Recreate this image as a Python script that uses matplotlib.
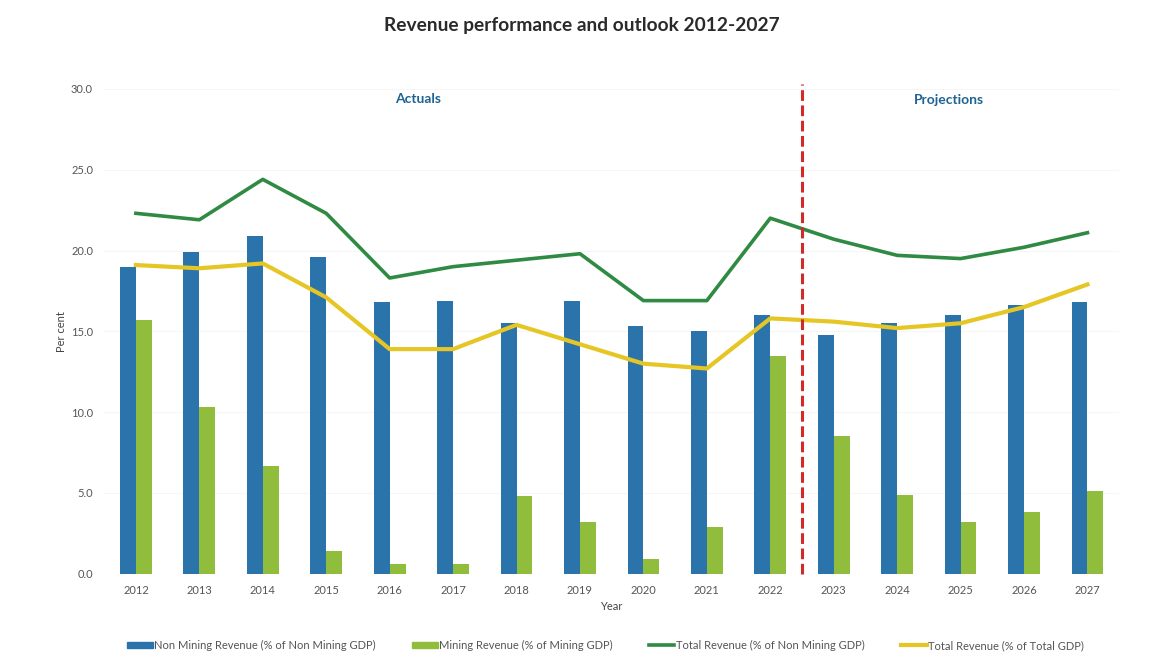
import numpy as np
import matplotlib.pyplot as plt
from matplotlib.lines import Line2D
from matplotlib.patches import Patch

plt.rcParams['font.family'] = ['Lato', 'DejaVu Sans']

years = ['2012', '2013', '2014', '2015', '2016', '2017', '2018', '2019',
         '2020', '2021', '2022', '2023', '2024', '2025', '2026', '2027']
non_mining_rev = [19.0, 19.9, 20.9, 19.6, 16.8, 16.9, 15.5, 16.9,
                  15.3, 15.0, 16.0, 14.8, 15.5, 16.0, 16.6, 16.8]
mining_rev = [15.7, 10.3, 6.7, 1.4, 0.6, 0.6, 4.8, 3.2,
              0.9, 2.9, 13.5, 8.5, 4.9, 3.2, 3.8, 5.1]
total_rev_nm_gdp = [22.3, 21.9, 24.4, 22.3, 18.3, 19.0, 19.4, 19.8,
                    16.9, 16.9, 22.0, 20.7, 19.7, 19.5, 20.2, 21.1]
total_rev_gdp = [19.1, 18.9, 19.2, 17.1, 13.9, 13.9, 15.4, 14.2,
                 13.0, 12.7, 15.8, 15.6, 15.2, 15.5, 16.5, 17.9]
yticks = [0, 5, 10, 15, 20, 25, 30]

c_blue = '#2b74ab'
c_lgreen = '#91bd3c'
c_dgreen = '#2f8a43'
c_yellow = '#e6c624'
c_red = '#d02b2b'
c_label = '#1f6394'

fig = plt.figure(figsize=(11.64, 6.68), dpi=100)
ax = fig.add_axes([0.0895, 0.141, 0.872, 0.726])

x = np.arange(len(years))
w = 0.25
ax.bar(x - w / 2, non_mining_rev, w, color=c_blue, zorder=2)
ax.bar(x + w / 2, mining_rev, w, color=c_lgreen, zorder=2)
ax.plot(x, total_rev_nm_gdp, color=c_dgreen, lw=2.6, zorder=3)
ax.plot(x, total_rev_gdp, color=c_yellow, lw=3.0, zorder=3)

# actuals / projections split
ax.plot([10.5, 10.5], [0, 30.3], color=c_red, lw=2.2, ls=(0, (3.5, 1.5)),
        zorder=4, clip_on=False)

ax.text(4.45, 29.4, 'Actuals', color=c_label, fontsize=10, fontweight='bold',
        ha='center', va='center')
ax.text(12.82, 29.3, 'Projections', color=c_label, fontsize=10,
        fontweight='bold', ha='center', va='center')

ax.set_xlim(-0.5, len(years) - 0.5)
ax.set_ylim(0, 30)
ax.set_xticks(x)
ax.set_xticklabels(years)
ax.set_yticks(yticks)
ax.set_yticklabels(['%.1f' % v for v in yticks])
ax.tick_params(axis='both', length=0, labelsize=8, colors='#555555', pad=8)
ax.tick_params(axis='y', pad=8)
ax.grid(axis='y', color='#f6f6f6', lw=0.8, zorder=0)
for s in ax.spines.values():
    s.set_visible(False)

ax.set_xlabel('Year', fontsize=8, color='#444444', labelpad=4)
ax.set_ylabel('Per cent', fontsize=8, color='#444444', labelpad=3)

fig.text(0.5, 0.962, 'Revenue performance and outlook 2012-2027',
         ha='center', va='center', fontsize=13.8, fontweight='bold',
         color='#2a2a2a')

handles = [Patch(color=c_blue), Patch(color=c_lgreen),
           Line2D([], [], color=c_dgreen, lw=2.6),
           Line2D([], [], color=c_yellow, lw=3.0)]
labels = ['Non Mining Revenue (% of Non Mining GDP)',
          'Mining Revenue (% of Mining GDP)',
          'Total Revenue (% of Non Mining GDP)',
          'Total Revenue (% of Total GDP)']
leg = fig.legend(handles, labels, loc='center', bbox_to_anchor=(0.52, 0.034),
                 ncol=4, frameon=False, fontsize=8, handlelength=2.3,
                 handleheight=0.5, handletextpad=0.1, columnspacing=3.3)
for t in leg.get_texts():
    t.set_color('#555555')

fig.savefig('out.png', dpi=100)
